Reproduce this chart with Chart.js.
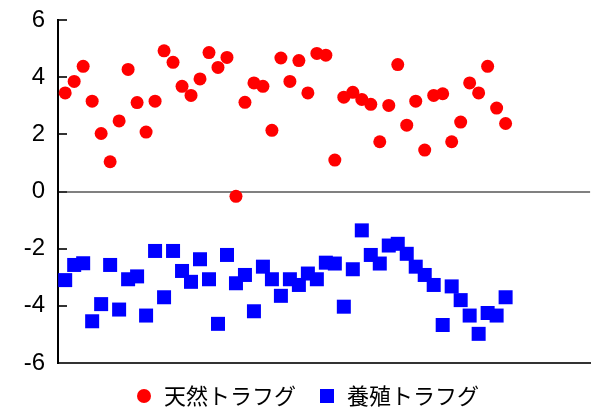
<!DOCTYPE html>
<html>
<head>
<meta charset="utf-8">
<script src="https://cdn.jsdelivr.net/npm/chart.js@4"></script>
<style>
  html, body { margin: 0; padding: 0; background: #fff; }
  #wrap { width: 600px; height: 410px; }
</style>
</head>
<body>
<div id="wrap"><canvas id="chart"></canvas></div>
<script>
const seriesNames = ['天然トラフグ', '養殖トラフグ'];
const yTicks = [-6, -4, -2, 0, 2, 4, 6];

// 50 fish, one value each per group
const wild = [
  3.45, 3.85, 4.38, 3.16, 2.03, 1.04, 2.47, 4.27, 3.11, 2.08,
  3.16, 4.92, 4.52, 3.68, 3.36, 3.94, 4.86, 4.34, 4.69, -0.17,
  3.12, 3.80, 3.68, 2.14, 4.67, 3.85, 4.58, 3.45, 4.83, 4.77,
  1.10, 3.30, 3.47, 3.22, 3.05, 1.74, 3.01, 4.44, 2.32, 3.16,
  1.45, 3.36, 3.42, 1.74, 2.43, 3.80, 3.45, 4.38, 2.92, 2.38
];
const farmed = [
  -3.10, -2.57, -2.51, -4.54, -3.94, -2.57, -4.13, -3.07, -2.97, -4.34,
  -2.08, -3.70, -2.08, -2.78, -3.16, -2.37, -3.07, -4.63, -2.22, -3.21,
  -2.92, -4.19, -2.63, -3.07, -3.65, -3.07, -3.27, -2.87, -3.07, -2.49,
  -2.52, -4.03, -2.72, -1.36, -2.22, -2.52, -1.89, -1.83, -2.18, -2.63,
  -2.92, -3.27, -4.67, -3.32, -3.80, -4.34, -4.98, -4.25, -4.34, -3.70
];

const toPoints = arr => arr.map((v, i) => ({ x: i + 1, y: v }));

// small marker images for the legend
function marker(kind, color) {
  const c = document.createElement('canvas');
  c.width = 14; c.height = 14;
  const g = c.getContext('2d');
  g.fillStyle = color;
  if (kind === 'circle') {
    g.beginPath();
    g.arc(7, 7, 7, 0, Math.PI * 2);
    g.fill();
  } else {
    g.fillRect(0, 0, 14, 14);
  }
  return c;
}
const legendMarkers = [marker('circle', '#ff0000'), marker('rect', '#0000ff')];

// legend in the original sits a few px right of centre
const legendNudge = {
  id: 'legendNudge',
  afterLayout(chart) {
    if (chart.legend) {
      chart.legend.left += 7;
      chart.legend.right += 7;
    }
  }
};

new Chart(document.getElementById('chart'), {
  type: 'scatter',
  data: {
    datasets: [
      {
        label: seriesNames[0],
        data: toPoints(wild),
        pointStyle: 'circle',
        pointRadius: 6.5,
        pointHoverRadius: 6.5,
        backgroundColor: '#ff0000',
        borderWidth: 0
      },
      {
        label: seriesNames[1],
        data: toPoints(farmed),
        pointStyle: 'rect',
        pointRadius: 9.9,
        pointHoverRadius: 9.9,
        backgroundColor: '#0000ff',
        borderWidth: 0
      }
    ]
  },
  options: {
    responsive: true,
    maintainAspectRatio: false,
    animation: false,
    layout: { padding: { top: 20, right: 0, bottom: -7, left: 0 } },
    plugins: {
      tooltip: { enabled: false },
      legend: {
        position: 'bottom',
        labels: {
          usePointStyle: true,
          boxWidth: 18,
          boxHeight: 14,
          padding: 22,
          color: '#000',
          font: { size: 22, family: "'Noto Sans CJK JP', sans-serif" },
          generateLabels: chart => chart.data.datasets.map((ds, i) => ({
            text: ds.label,
            pointStyle: legendMarkers[i],
            fillStyle: ds.backgroundColor,
            strokeStyle: ds.backgroundColor,
            lineWidth: 0,
            hidden: false,
            datasetIndex: i
          }))
        }
      }
    },
    scales: {
      x: {
        type: 'linear',
        min: 0.2,
        max: 59.4,
        ticks: { display: false },
        grid: { display: false, drawTicks: false },
        border: { display: true, color: '#333', width: 2 }
      },
      y: {
        min: -6,
        max: 6,
        afterBuildTicks: scale => { scale.ticks = yTicks.map(v => ({ value: v })); },
        afterFit: scale => {
          scale.width = 58;
          scale.paddingTop = 0;
          scale.paddingBottom = 0;
        },
        ticks: {
          color: '#000',
          padding: 22,
          font: { size: 24, family: "'Liberation Sans', Arial, sans-serif" }
        },
        grid: {
          drawOnChartArea: true,
          tickLength: -9,
          tickWidth: 2,
          tickColor: '#333',
          lineWidth: 2,
          color: ctx => (ctx.tick && ctx.tick.value === 0) ? '#808080' : 'rgba(0,0,0,0)'
        },
        border: { display: true, color: '#000', width: 2 }
      }
    }
  },
  plugins: [legendNudge]
});
</script>
</body>
</html>
